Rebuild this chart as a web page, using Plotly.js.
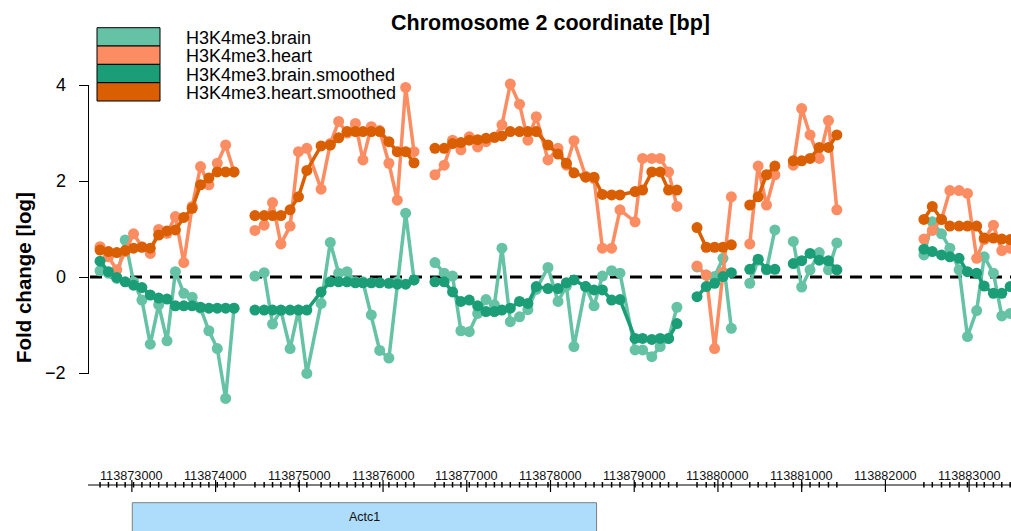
<!DOCTYPE html>
<html><head><meta charset="utf-8">
<script src="https://cdn.plot.ly/plotly-3.0.1.min.js"></script>
<style>html,body{margin:0;padding:0;background:#fff}#chart{width:1011px;height:531px}</style>
</head><body><div id="chart"></div>
<script>
// ---------- data ----------
const seriesNames = ['H3K4me3.brain', 'H3K4me3.heart', 'H3K4me3.brain.smoothed', 'H3K4me3.heart.smoothed'];
const seriesColors = ['#66C2A5', '#FC8D62', '#1B9E77', '#D95F02'];

// window positions (bp); entries whose values are null mark gaps between blocks
const positions = [
  113872620,113872720,113872820,113872920,113873020,113873120,113873220,113873320,113873420,113873520,113873620,113873720,113873820,113873920,113874020,113874120,113874220,
  113874340,
  113874470,113874580,113874680,113874780,113874890,113874990,113875090,113875260,113875370,113875470,113875570,113875670,113875760,113875860,113875960,113876070,113876170,113876270,113876370,
  113876500,
  113876620,113876730,113876830,113876930,113877030,113877130,113877230,113877330,113877420,113877520,113877630,113877730,113877830,113877970,113878090,113878190,113878280,113878420,113878520,113878620,113878730,113878830,113879010,113879100,113879210,113879310,113879410,113879510,
  113879630,
  113879750,113879860,113879960,113880060,113880160,
  113880270,
  113880380,113880480,113880580,113880680,
  113880790,
  113880900,113881000,113881100,113881210,113881320,113881420,
  113881900,
  113882460,113882560,113882670,113882770,113882880,113882980,113883090,113883180,113883290,113883390,113883490
];

const brain = [
  0.13,0.08,-0.03,0.77,-0.10,-0.48,-1.40,-0.58,-1.33,0.11,-0.34,-0.42,-0.65,-1.12,-1.49,-2.53,-0.65,
  null,
  0.02,0.09,-0.98,-0.70,-1.49,-0.69,-2.01,-0.55,0.72,0.08,0.11,-0.10,-0.10,-0.79,-1.53,-1.69,-0.10,1.33,-0.06,
  null,
  0.30,0.08,0.02,-1.12,-1.14,-0.76,-0.47,-0.58,0.60,-0.93,-0.83,-0.68,-0.26,0.20,-0.51,-0.19,-1.45,-0.20,-0.60,0.02,0.13,0.08,-1.52,-1.52,-1.66,-1.45,-1.28,-0.63,
  null,
  0.21,0.04,0.01,0.39,-1.07,
  null,
  -0.13,0.35,0.15,0.98,
  null,
  0.74,-0.21,0.15,0.51,0.15,0.71,
  null,
  0.46,1.15,0.90,0.60,0.15,-1.24,-0.70,0.42,0.08,-0.81,-0.76
];
const heart = [
  0.63,0.42,0.15,0.53,0.90,0.63,0.49,0.99,0.91,1.26,0.30,1.47,2.30,1.92,2.37,2.75,2.19,
  null,
  0.97,1.08,1.55,0.69,1.06,2.61,2.68,1.83,2.78,3.24,3.00,3.20,2.44,3.13,3.05,2.37,1.60,3.95,2.61,
  null,
  2.13,2.33,2.85,2.65,2.92,2.71,2.82,2.91,3.17,4.02,3.60,2.85,3.34,2.44,2.68,2.33,2.84,2.10,2.05,0.60,0.60,1.40,1.15,2.47,2.47,2.47,2.19,1.47,
  null,
  0.23,0.04,-1.49,0.10,1.67,
  null,
  0.69,2.31,1.50,2.13,
  null,
  2.33,3.51,2.96,2.47,3.26,1.40,
  null,
  0.79,0.97,1.20,1.80,1.80,1.74,0.39,0.78,1.08,0.55,0.60
];
const brainSmoothed = [
  0.33,0.11,-0.01,-0.10,-0.17,-0.22,-0.375,-0.44,-0.46,-0.60,-0.60,-0.60,-0.63,-0.65,-0.65,-0.65,-0.65,
  null,
  -0.69,-0.69,-0.69,-0.69,-0.69,-0.69,-0.69,-0.31,-0.10,-0.10,-0.10,-0.12,-0.12,-0.12,-0.12,-0.13,-0.15,-0.15,-0.06,
  null,
  -0.10,-0.10,-0.31,-0.51,-0.48,-0.60,-0.72,-0.72,-0.69,-0.65,-0.51,-0.55,-0.20,-0.24,-0.24,-0.12,-0.06,-0.20,-0.27,-0.27,-0.48,-0.47,-1.28,-1.28,-1.30,-1.28,-1.28,-0.97,
  null,
  -0.41,-0.20,-0.13,0.01,0.09,
  null,
  0.16,0.37,0.16,0.16,
  null,
  0.28,0.34,0.49,0.35,0.34,0.15,
  null,
  0.58,0.53,0.46,0.42,0.39,0.11,0.08,-0.19,-0.34,-0.34,-0.20
];
const heartSmoothed = [
  0.56,0.53,0.51,0.55,0.60,0.62,0.60,0.875,0.96,0.98,1.24,1.43,1.92,2.06,2.19,2.19,2.19,
  null,
  1.28,1.28,1.28,1.28,1.40,1.67,2.22,2.73,2.75,2.90,3.03,3.03,3.03,3.03,3.03,2.82,2.61,2.61,2.38,
  null,
  2.68,2.68,2.78,2.80,2.85,2.86,2.89,2.91,2.94,3.03,3.03,3.03,3.03,2.75,2.56,2.37,2.17,2.08,2.08,1.72,1.71,1.71,1.78,1.81,2.19,2.19,1.81,1.81,
  null,
  1.03,0.62,0.62,0.62,0.67,
  null,
  1.50,1.67,2.13,2.31,
  null,
  2.42,2.42,2.47,2.70,2.70,2.96,
  null,
  1.20,1.47,1.20,1.06,1.06,1.06,1.06,0.81,0.81,0.79,0.78
];

const yTickVals = [-2, 0, 2, 4];
const yTickText = ['\u22122', '0', '2', '4'];
const genomeTicks = [113873000,113874000,113875000,113876000,113877000,113878000,113879000,113880000,113881000,113882000,113883000];
const geneNames = ['Actc1'];
const geneStarts = [113873005];
const geneEnds = [113878550];

// ---------- layout helpers (pixel -> paper) ----------
const W = 1011, H = 531;
const px = v => v / W;
const py = v => 1 - v / H;
const FONT = 'Liberation Sans, Arial, Helvetica, sans-serif';
const X_RANGE = [113872500, 113883500];

const allSeries = [brain, heart, brainSmoothed, heartSmoothed];
const traces = allSeries.map((vals, i) => ({
  type: 'scatter', mode: 'lines+markers',
  x: positions, y: vals, name: seriesNames[i],
  line: {color: seriesColors[i], width: 3.5},
  marker: {color: seriesColors[i], size: 11},
  connectgaps: false, showlegend: false, hoverinfo: 'skip'
}));

const shapes = [];
const annotations = [];

// zero baseline
shapes.push({type: 'line', xref: 'x', yref: 'y', x0: X_RANGE[0], x1: X_RANGE[1], y0: 0, y1: 0,
  line: {color: '#000', width: 3, dash: '12px,8px'}, layer: 'below'});
// y axis line (from -2 to 4)
shapes.push({type: 'line', xref: 'paper', yref: 'y', x0: px(88.5), x1: px(88.5), y0: yTickVals[0], y1: yTickVals[yTickVals.length - 1],
  line: {color: '#000', width: 1}});
// y tick labels
yTickVals.forEach((v, i) => {
  annotations.push({xref: 'paper', yref: 'y', x: px(68), y: v, xanchor: 'right', yanchor: 'middle',
    text: yTickText[i], showarrow: false, font: {family: FONT, size: 18, color: '#000'}});
});

// legend
const legTop = 27.7, legRow = 18.33;
seriesNames.forEach((n, i) => {
  shapes.push({type: 'rect', xref: 'paper', yref: 'paper', x0: px(97), x1: px(160),
    y0: py(legTop + legRow * (i + 1)), y1: py(legTop + legRow * i),
    fillcolor: seriesColors[i], line: {color: '#000', width: 1}, layer: 'above'});
  annotations.push({xref: 'paper', yref: 'paper', x: px(184), y: py(legTop + legRow * i + legRow / 2 + 1),
    xanchor: 'left', yanchor: 'middle', text: n, showarrow: false,
    font: {family: FONT, size: 18, color: '#000'}});
});

// titles
annotations.push({xref: 'paper', yref: 'paper', x: px(550), y: py(22.5), xanchor: 'center', yanchor: 'middle',
  text: '<b>Chromosome 2 coordinate [bp]</b>', showarrow: false, font: {family: FONT, size: 21.5, color: '#000'}});
annotations.push({xref: 'paper', yref: 'paper', x: px(23), y: py(278), xanchor: 'center', yanchor: 'middle', textangle: -90,
  text: '<b>Fold change [log]</b>', showarrow: false, font: {family: FONT, size: 20.5, color: '#000'}});

// genome axis
shapes.push({type: 'line', xref: 'paper', yref: 'paper', x0: px(88), x1: 1, y0: py(485), y1: py(485),
  line: {color: '#000', width: 1.2}});
positions.forEach((p, i) => {
  if (brain[i] === null) return;
  shapes.push({type: 'line', xref: 'x', yref: 'paper', x0: p, x1: p, y0: py(487.5), y1: py(482),
    line: {color: '#000', width: 1.5}});
});
genomeTicks.forEach(t => {
  shapes.push({type: 'line', xref: 'x', yref: 'paper', x0: t, x1: t, y0: py(492), y1: py(480),
    line: {color: '#000', width: 1.2}});
  annotations.push({xref: 'x', yref: 'paper', x: t, y: py(475.5), xanchor: 'center', yanchor: 'middle',
    text: String(t), showarrow: false, font: {family: FONT, size: 12.7, color: '#111'}});
});

// gene track
geneNames.forEach((g, i) => {
  shapes.push({type: 'rect', xref: 'x', yref: 'paper', x0: geneStarts[i], x1: geneEnds[i], y0: py(540), y1: py(502.7),
    fillcolor: '#ADDDFA', line: {color: '#7f7f7f', width: 1}});
  annotations.push({xref: 'x', yref: 'paper', x: (geneStarts[i] + geneEnds[i]) / 2, y: py(517), xanchor: 'center', yanchor: 'middle',
    text: g, showarrow: false, font: {family: FONT, size: 12.5, color: '#111'}});
});

const layout = {
  width: W, height: H,
  margin: {l: 0, r: 0, t: 0, b: 0, pad: 0},
  paper_bgcolor: '#fff', plot_bgcolor: 'rgba(0,0,0,0)',
  showlegend: false,
  xaxis: {domain: [px(90), 1], range: X_RANGE, visible: false, fixedrange: true},
  yaxis: {domain: [py(440), py(40)], range: [(277 - 440) / 48, (277 - 40) / 48],
    anchor: 'free', position: px(88.5),
    tickvals: yTickVals, ticks: 'outside', ticklen: 10, tickwidth: 1, tickcolor: '#000',
    showticklabels: false,
    showline: false, showgrid: false, zeroline: false, fixedrange: true},
  shapes: shapes,
  annotations: annotations
};

Plotly.newPlot('chart', traces, layout, {staticPlot: true, displayModeBar: false});
</script>
</body></html>
